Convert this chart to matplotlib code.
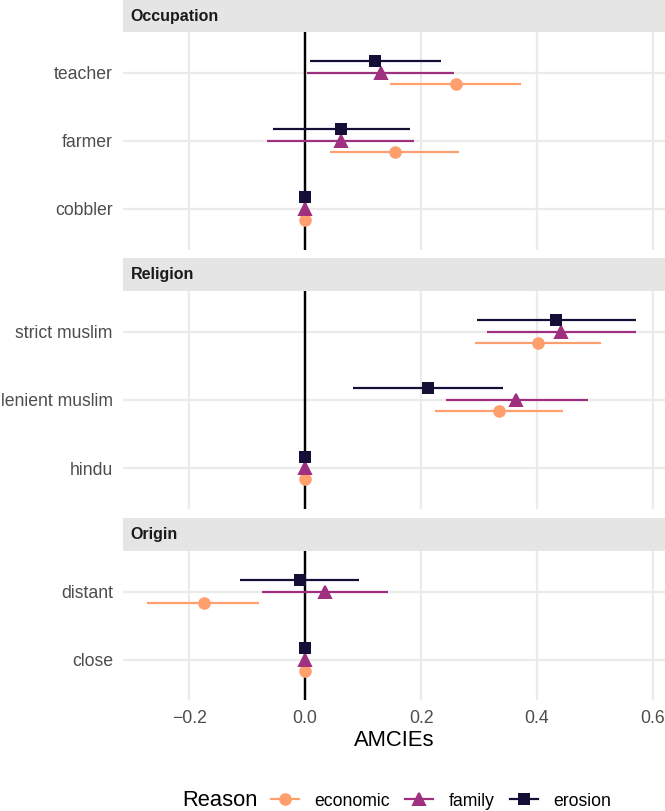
import numpy as np
import matplotlib.pyplot as plt
from matplotlib.lines import Line2D

plt.rcParams['font.family'] = ['Liberation Sans', 'DejaVu Sans']

# reasons (legend order) and their look
reasons = ["economic", "family", "erosion"]
reason_colors = {"economic": "#FE9F6D", "family": "#9F2F7F", "erosion": "#150E37"}
reason_markers = {"economic": "o", "family": "^", "erosion": "s"}
reason_msize = {"economic": 5.3, "family": 6.4, "erosion": 5.4}
dodge = {"economic": -1 / 6, "family": 0.0, "erosion": 1 / 6}

# Occupation panel (top to bottom)
occ_levels = ["teacher", "farmer", "cobbler"]
occ_est = {"economic": [0.260, 0.155, 0.0], "family": [0.130, 0.061, 0.0], "erosion": [0.120, 0.062, 0.0]}
occ_lo = {"economic": [0.147, 0.043, 0.0], "family": [0.004, -0.066, 0.0], "erosion": [0.009, -0.056, 0.0]}
occ_hi = {"economic": [0.373, 0.266, 0.0], "family": [0.256, 0.188, 0.0], "erosion": [0.234, 0.181, 0.0]}

# Religion panel
rel_levels = ["strict muslim", "lenient muslim", "hindu"]
rel_est = {"economic": [0.402, 0.334, 0.0], "family": [0.442, 0.364, 0.0], "erosion": [0.432, 0.212, 0.0]}
rel_lo = {"economic": [0.293, 0.224, 0.0], "family": [0.313, 0.243, 0.0], "erosion": [0.296, 0.082, 0.0]}
rel_hi = {"economic": [0.511, 0.444, 0.0], "family": [0.570, 0.488, 0.0], "erosion": [0.570, 0.341, 0.0]}

# Origin panel
ori_levels = ["distant", "close"]
ori_est = {"economic": [-0.175, 0.0], "family": [0.034, 0.0], "erosion": [-0.009, 0.0]}
ori_lo = {"economic": [-0.273, 0.0], "family": [-0.074, 0.0], "erosion": [-0.112, 0.0]}
ori_hi = {"economic": [-0.079, 0.0], "family": [0.143, 0.0], "erosion": [0.093, 0.0]}

x_ticks = [-0.2, 0.0, 0.2, 0.4, 0.6]

W, H = 665, 811
fig = plt.figure(figsize=(W / 144, H / 144), dpi=144)


def px_axes(left, top, right, bottom):
    # figure-pixel box (top-left origin) -> add_axes
    return fig.add_axes([left / W, 1 - bottom / H, (right - left) / W, (bottom - top) / H])


panels = [
    ("Occupation", occ_levels, occ_est, occ_lo, occ_hi, 0, 32, 249.6),
    ("Religion", rel_levels, rel_est, rel_lo, rel_hi, 258.3, 290.7, 509.0),
    ("Origin", ori_levels, ori_est, ori_lo, ori_hi, 518.3, 550.7, 700.3),
]

left_px, right_px = 122.8, 665
for i, (name, levels, est, lo, hi, s_top, p_top, p_bot) in enumerate(panels):
    # strip
    sax = px_axes(left_px, s_top, right_px, p_top)
    sax.set_facecolor("#E5E5E5")
    sax.set_xticks([])
    sax.set_yticks([])
    for sp in sax.spines.values():
        sp.set_visible(False)
    sax.text(8 / (right_px - left_px), 0.5, name, fontsize=8, fontweight="bold",
             color="#1A1A1A", va="center", ha="left", transform=sax.transAxes)

    ax = px_axes(left_px, p_top, right_px, p_bot)
    n = len(levels)
    rows = np.arange(n, 0, -1)
    ax.set_ylim(0.4, n + 0.6)
    ax.set_xlim(-0.3146, 0.6207)
    ax.set_yticks(rows)
    ax.set_yticklabels(levels)
    ax.set_xticks(x_ticks)
    ax.grid(True, color="#EBEBEB", lw=1.1)
    ax.set_axisbelow(True)
    for sp in ax.spines.values():
        sp.set_visible(False)
    ax.tick_params(length=0, labelsize=8.8, labelcolor="#4D4D4D", pad=5)
    if i < 2:
        ax.tick_params(labelbottom=False)
    else:
        ax.set_xticklabels(["\u22120.2", "0.0", "0.2", "0.4", "0.6"])

    ax.axvline(0, color="black", lw=1.2, zorder=2)
    for r in reasons:
        y = rows + dodge[r]
        ax.hlines(y, lo[r], hi[r], color=reason_colors[r], lw=1.1, zorder=3)
        ax.plot(est[r], y, ls="none", marker=reason_markers[r], ms=reason_msize[r],
                color=reason_colors[r], zorder=4)

fig.text((left_px + right_px) / 2 / W, 1 - 740 / H, "AMCIEs", fontsize=11,
         ha="center", va="center", color="black")

# legend with title on the left
fig.text(182.5 / W, 1 - 801 / H, "Reason", fontsize=11, ha="left", va="center")
handles = [Line2D([], [], color=reason_colors[r], marker=reason_markers[r],
                  ms=reason_msize[r], lw=1.1) for r in reasons]
fig.legend(handles, reasons, loc="center left", bbox_to_anchor=(270.7 / W, 1 - 801 / H),
           ncol=3, frameon=False, fontsize=8.8, handlelength=1.6, handletextpad=0.85,
           columnspacing=0.9, borderpad=0, borderaxespad=0)

fig.savefig("out.png", dpi=144)
